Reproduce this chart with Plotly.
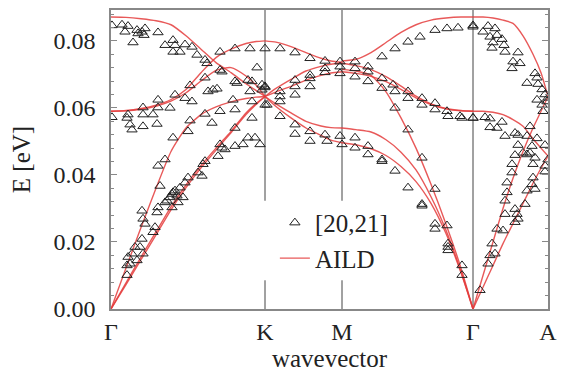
import plotly.graph_objects as go

# ---------------- axis / path data ----------------
path_ticks = [0, 154, 231, 362, 437]
path_labels = ["Γ", "K", "M", "Γ", "A"]
y_ticks = [0.00, 0.02, 0.04, 0.06, 0.08]

# ---------------- AILD curves (per segment) ----------------
gk_x = [0, 15, 30, 45, 60, 75, 90, 105, 120, 135, 145, 154]
gk_A = [0.0871, 0.0870, 0.0866, 0.0860, 0.0848, 0.0815, 0.0775, 0.0735, 0.0705, 0.0672, 0.0652, 0.0634]
gk_B = [0.0590, 0.0592, 0.0598, 0.0608, 0.0625, 0.0655, 0.0705, 0.0750, 0.0775, 0.0792, 0.0798, 0.0800]
gk_C = [0.0590, 0.0591, 0.0596, 0.0605, 0.0620, 0.0645, 0.0680, 0.0712, 0.0720, 0.0695, 0.0668, 0.0634]
gk_D = [0.0, 0.0122, 0.0243, 0.0360, 0.0470, 0.0540, 0.0580, 0.0603, 0.0618, 0.0628, 0.0632, 0.0634]
gk_E = [0.0, 0.0078, 0.0155, 0.0230, 0.0305, 0.0370, 0.0428, 0.0480, 0.0530, 0.0585, 0.0613, 0.0634]
gk_F = [0.0, 0.0073, 0.0147, 0.0221, 0.0296, 0.0362, 0.0421, 0.0474, 0.0526, 0.0580, 0.0610, 0.0634]

km_x = [154, 165, 180, 195, 210, 220, 231]
km_B = [0.0800, 0.0796, 0.0783, 0.0765, 0.0748, 0.0740, 0.0736]
km_R1 = [0.0634, 0.0658, 0.0685, 0.0710, 0.0724, 0.0730, 0.0733]
km_R2 = [0.0634, 0.0648, 0.0664, 0.0683, 0.0697, 0.0704, 0.0708]
km_L1 = [0.0634, 0.0612, 0.0585, 0.0560, 0.0546, 0.0541, 0.0540]
km_L2 = [0.0634, 0.0604, 0.0570, 0.0540, 0.0518, 0.0504, 0.0496]

mg_x = [231, 245, 260, 275, 290, 305, 320, 335, 350, 362]
mg_T = [0.0740, 0.0745, 0.0765, 0.0795, 0.0825, 0.0848, 0.0862, 0.0868, 0.0871, 0.0871]
mg_M1 = [0.0733, 0.0726, 0.0714, 0.0693, 0.0665, 0.0635, 0.0612, 0.0598, 0.0592, 0.0590]
mg_M2 = [0.0708, 0.0703, 0.0694, 0.0678, 0.0655, 0.0630, 0.0610, 0.0597, 0.0591, 0.0590]
mg_S = [0.0715, 0.0710, 0.0697, 0.0648, 0.0570, 0.0480, 0.0372, 0.0253, 0.0122, 0.0]
mg_L1 = [0.0540, 0.0535, 0.0528, 0.0505, 0.0468, 0.0415, 0.0335, 0.0235, 0.0112, 0.0]
mg_L2 = [0.0496, 0.0490, 0.0478, 0.0458, 0.0425, 0.0380, 0.0315, 0.0225, 0.0108, 0.0]

ga_x = [362, 372, 382, 392, 402, 412, 422, 430, 437]
ga_T = [0.0871, 0.0871, 0.0868, 0.0862, 0.0852, 0.0815, 0.0760, 0.0705, 0.0634]
ga_O = [0.0590, 0.0590, 0.0587, 0.0580, 0.0565, 0.0545, 0.0508, 0.0480, 0.0456]
ga_LA = [0.0, 0.0100, 0.0200, 0.0300, 0.0390, 0.0470, 0.0540, 0.0590, 0.0634]
ga_TA = [0.0, 0.0065, 0.0130, 0.0195, 0.0255, 0.0315, 0.0375, 0.0420, 0.0456]

# ---------------- experimental points [20,21] ----------------
gk_exp_x = [1, 11, 17, 14, 26, 27, 31, 34, 33, 47, 22, 54, 62, 64, 62, 69, 74, 81, 86, 94, 96, 109, 124, 139, 154, 146,
            109, 111, 94, 102, 106, 97, 79, 74, 81, 64, 47, 59, 47, 32, 32, 42, 46, 32, 17, 16, 19, 21, 1, 124, 126, 137,
            141, 139, 151, 154, 156, 141, 122, 124, 109, 101, 94, 79, 77, 62, 141, 137, 144, 149, 132, 124, 124, 109, 111,
            107, 114,
            47, 54, 49, 94, 92, 87, 91, 77, 74, 69, 64, 62, 61, 66, 59, 56, 54, 72, 67, 61, 47, 46, 31, 32, 34, 44, 42, 31,
            29, 24, 17, 21, 19, 16, 26, 32, 16]
gk_exp_E = [0.0846, 0.0848, 0.0844, 0.0827, 0.0832, 0.0822, 0.0827, 0.0837, 0.0817, 0.0825, 0.0795, 0.0787, 0.0802,
            0.0787, 0.0767, 0.0767, 0.0789, 0.0782, 0.0758, 0.0743, 0.0733, 0.0767, 0.0777, 0.0777, 0.0777, 0.0720,
            0.0713, 0.0708, 0.0690, 0.0654, 0.0657, 0.0649, 0.0667, 0.0629, 0.0619, 0.0639, 0.0624, 0.0600, 0.0601,
            0.0601, 0.0580, 0.0580, 0.0552, 0.0545, 0.0580, 0.0570, 0.0550, 0.0535, 0.0572, 0.0679, 0.0674, 0.0683,
            0.0679, 0.0649, 0.0654, 0.0664, 0.0609, 0.0619, 0.0624, 0.0595, 0.0590, 0.0555, 0.0582, 0.0562, 0.0530,
            0.0511, 0.0570, 0.0511, 0.0511, 0.0491, 0.0491, 0.0486, 0.0540, 0.0491, 0.0481, 0.0456, 0.0476,
            0.0427, 0.0446, 0.0367, 0.0441, 0.0432, 0.0407, 0.0397, 0.0392, 0.0377, 0.0362, 0.0353, 0.0348, 0.0343,
            0.0338, 0.0333, 0.0323, 0.0318, 0.0333, 0.0318, 0.0303, 0.0303, 0.0288, 0.0293, 0.0269, 0.0254, 0.0244,
            0.0229, 0.0209, 0.0185, 0.0185, 0.0155, 0.0165, 0.0135, 0.0130, 0.0145, 0.0165, 0.0101]

km_exp_x = [169, 184, 199, 214, 229, 229, 154, 151, 154, 169, 169, 169, 169, 184, 184, 184, 199, 199, 199, 214, 214, 229,
            184, 184, 199, 199, 214, 216, 229, 231]
km_exp_E = [0.0777, 0.0765, 0.0748, 0.0740, 0.0738, 0.0723, 0.0661, 0.0669, 0.0609, 0.0649, 0.0634, 0.0619, 0.0575,
            0.0683, 0.0664, 0.0639, 0.0698, 0.0688, 0.0664, 0.0718, 0.0706, 0.0703, 0.0550, 0.0522, 0.0530, 0.0501,
            0.0520, 0.0501, 0.0516, 0.0491]

mg_exp_x = [244, 271, 284, 297, 309, 324, 336, 347, 362,
            244, 244, 257, 257, 257, 271, 271, 282, 284, 297, 297, 284, 311, 311, 324, 324, 336, 337, 349, 351, 362,
            297, 311, 324, 336, 337, 351, 351,
            244, 244, 257, 257, 271, 271, 284, 297, 311, 311, 324, 324, 337, 337]
mg_exp_E = [0.0738, 0.0753, 0.0777, 0.0797, 0.0812, 0.0832, 0.0837, 0.0839, 0.0842,
            0.0718, 0.0693, 0.0723, 0.0708, 0.0679, 0.0688, 0.0659, 0.0669, 0.0649, 0.0649, 0.0629, 0.0600, 0.0629,
            0.0609, 0.0614, 0.0595, 0.0590, 0.0575, 0.0575, 0.0570, 0.0570,
            0.0535, 0.0451, 0.0358, 0.0249, 0.0185, 0.0130, 0.0101,
            0.0511, 0.0481, 0.0486, 0.0461, 0.0446, 0.0441, 0.0412, 0.0362, 0.0313, 0.0308, 0.0254, 0.0239, 0.0195,
            0.0175]

ga_exp_x = [362, 372, 377, 384, 379, 386, 382, 391, 393, 381, 394, 407, 402, 409, 401, 424, 426, 416, 427, 426, 436, 431,
            432, 434, 437, 431,
            362, 374, 379, 391, 386, 379, 394, 404, 407, 419, 416, 421, 419, 426, 434, 437, 434, 434, 424, 422, 407,
            412, 404, 401, 416,
            369, 377, 379, 384, 381, 386, 392, 394, 394, 396, 396, 401, 404, 406, 407, 404, 414, 416, 421, 424, 422]
ga_exp_E = [0.0846, 0.0827, 0.0844, 0.0837, 0.0812, 0.0817, 0.0795, 0.0805, 0.0787, 0.0779, 0.0767, 0.0765, 0.0738,
            0.0733, 0.0718, 0.0703, 0.0690, 0.0674, 0.0671, 0.0624, 0.0619, 0.0609, 0.0590, 0.0640, 0.0630, 0.0655,
            0.0570, 0.0572, 0.0568, 0.0558, 0.0540, 0.0542, 0.0516, 0.0525, 0.0519, 0.0545, 0.0516, 0.0486, 0.0466,
            0.0509, 0.0489, 0.0446, 0.0427, 0.0410, 0.0451, 0.0432, 0.0489, 0.0466, 0.0459, 0.0432, 0.0461,
            0.0056, 0.0135, 0.0160, 0.0165, 0.0195, 0.0239, 0.0234, 0.0283, 0.0323, 0.0348, 0.0377, 0.0407, 0.0298,
            0.0283, 0.0269, 0.0259, 0.0313, 0.0353, 0.0372, 0.0358, 0.0392]

# ---------------- build traces ----------------
segments = [
    (gk_x, [gk_A, gk_B, gk_C, gk_D, gk_E, gk_F]),
    (km_x, [km_B, km_R1, km_R2, km_L1, km_L2]),
    (mg_x, [mg_T, mg_M1, mg_M2, mg_S, mg_L1, mg_L2]),
    (ga_x, [ga_T, ga_O, ga_LA, ga_TA]),
]
line_x, line_y = [], []
for xs, branches in segments:
    for br in branches:
        line_x += list(xs) + [None]
        line_y += list(br) + [None]

exp_x = gk_exp_x + km_exp_x + mg_exp_x + ga_exp_x
exp_E = gk_exp_E + km_exp_E + mg_exp_E + ga_exp_E

serif = '"Liberation Serif", "Times New Roman", serif'
txt = "#222222"

fig = go.Figure()
fig.add_trace(go.Scatter(
    x=line_x, y=line_y, mode="lines", name="AILD",
    line=dict(color="rgba(228,60,60,0.85)", width=1.4, shape="spline", smoothing=0.6),
    connectgaps=False,
))
fig.add_trace(go.Scatter(
    x=exp_x, y=exp_E, mode="markers", name="[20,21]",
    marker=dict(symbol="triangle-up-open", size=9, color="#222222", line=dict(width=1)),
))

# vertical lines at the interior high-symmetry points (K and M broken behind legend)
for xv in path_ticks[1:3]:
    fig.add_shape(type="line", xref="x", yref="paper", x0=xv, x1=xv, y0=0, y1=0.096,
                  line=dict(color="#444444", width=1), layer="below")
    fig.add_shape(type="line", xref="x", yref="paper", x0=xv, x1=xv, y0=0.362, y1=1,
                  line=dict(color="#444444", width=1), layer="below")
fig.add_shape(type="line", xref="x", yref="paper", x0=path_ticks[3], x1=path_ticks[3], y0=0, y1=1,
              line=dict(color="#444444", width=1), layer="below")

fig.update_layout(
    width=561, height=377,
    margin=dict(l=103, r=21, t=0, b=76),
    paper_bgcolor="white", plot_bgcolor="white",
    font=dict(family=serif, size=24, color=txt),
    showlegend=True,
    legend=dict(x=0.375, y=0.365, xanchor="left", yanchor="top",
                bgcolor="rgba(255,255,255,0)", font=dict(family=serif, size=25, color=txt),
                traceorder="reversed", tracegroupgap=0),
)
fig.update_xaxes(
    range=[0, 437], tickvals=path_ticks, ticktext=path_labels, ticks="",
    showline=True, linecolor="#888888", linewidth=1.5, mirror=True, showgrid=False, zeroline=False,
    tickfont=dict(family=serif, size=24, color=txt),
    title=dict(text="wavevector", font=dict(family=serif, size=25, color=txt), standoff=4),
)
fig.update_yaxes(
    range=[0, 0.0892], tickvals=y_ticks, tickformat=".2f", ticks="inside", ticklen=6, tickcolor="#888888",
    minor=dict(dtick=0.004, ticks="inside", ticklen=3, tickcolor="#888888"),
    showline=True, linecolor="#888888", linewidth=1.5, mirror="ticks", showgrid=False, zeroline=False,
    tickfont=dict(family=serif, size=24, color=txt), ticklabelstandoff=9,
    title=dict(text="E [eV]", font=dict(family=serif, size=25, color=txt), standoff=20),
)

fig.write_html("out.html")
